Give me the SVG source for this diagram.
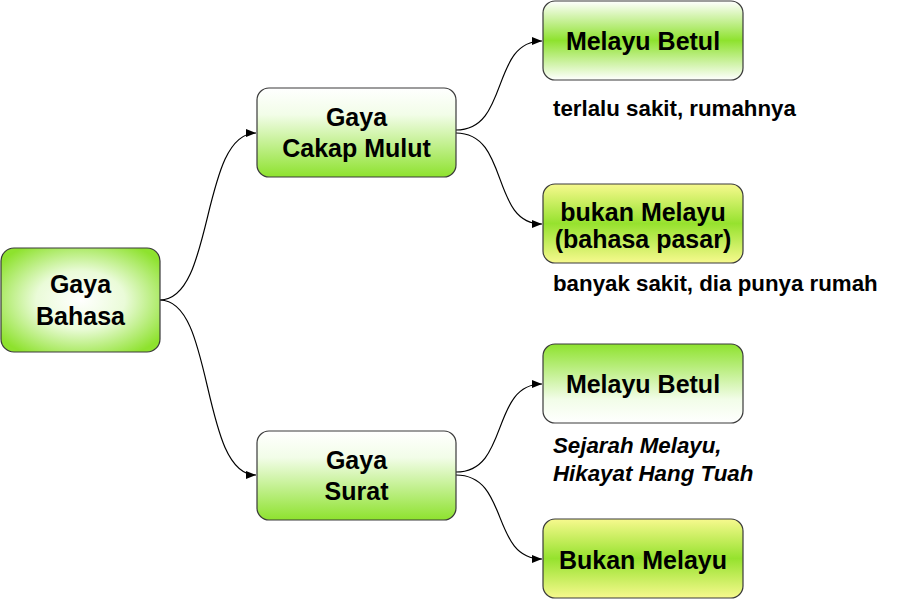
<svg xmlns="http://www.w3.org/2000/svg" width="897" height="602" viewBox="0 0 897 602">
<style>
.box{stroke:#3a3a3a;stroke-width:1.2}
.t{font-family:"Liberation Sans",Arial,sans-serif;font-weight:bold;font-size:25px;fill:#000;text-anchor:middle}
.a{font-family:"Liberation Sans",Arial,sans-serif;font-weight:bold;font-size:22.3px;fill:#000}
.i{font-style:italic}
.c{fill:none;stroke:#000;stroke-width:1.2}
</style>
<defs>
<radialGradient id="gRad" cx="0.5" cy="0.5" r="0.62">
<stop offset="0" stop-color="#ffffff"/><stop offset="0.45" stop-color="#eafbd8"/><stop offset="1" stop-color="#8ee22e"/>
</radialGradient>
<linearGradient id="gUp" x1="0" y1="0" x2="0" y2="1">
<stop offset="0" stop-color="#ffffff"/><stop offset="0.3" stop-color="#f2fde8"/><stop offset="1" stop-color="#8ee22e"/>
</linearGradient>
<linearGradient id="gDown" x1="0" y1="0" x2="0" y2="1">
<stop offset="0" stop-color="#8ee22e"/><stop offset="0.7" stop-color="#f2fde8"/><stop offset="1" stop-color="#ffffff"/>
</linearGradient>
<linearGradient id="gBand" x1="0" y1="0" x2="0" y2="1">
<stop offset="0" stop-color="#ffffff"/><stop offset="0.5" stop-color="#8ee22e"/><stop offset="1" stop-color="#ffffff"/>
</linearGradient>
<linearGradient id="gYel" x1="0" y1="0" x2="0" y2="1">
<stop offset="0" stop-color="#f7f98e"/><stop offset="0.5" stop-color="#96e22e"/><stop offset="1" stop-color="#f7f98e"/>
</linearGradient>
<marker id="arr" viewBox="0 0 10 10" refX="10" refY="5" markerWidth="10" markerHeight="10" markerUnits="userSpaceOnUse" orient="auto">
<path d="M0,1 L10,5 L0,9 z" fill="#000"/>
</marker>
</defs>
<g id="connectors">
<path class="c" marker-end="url(#arr)" d="M160,300 C215,300 200,133 256,133"/>
<path class="c" marker-end="url(#arr)" d="M160,300 C215,300 200,475 256,475"/>
<path class="c" marker-end="url(#arr)" d="M456,130 C510,130 490,41 542,41"/>
<path class="c" marker-end="url(#arr)" d="M456,133 C510,133 490,224 542,224"/>
<path class="c" marker-end="url(#arr)" d="M456,472 C510,472 490,384 542,384"/>
<path class="c" marker-end="url(#arr)" d="M456,475 C510,475 490,559 542,559"/>
</g>
<g id="gaya-bahasa">
<rect class="box" x="1" y="248" width="159" height="104" rx="13" fill="url(#gRad)"/>
<text class="t" x="80.5" y="293">Gaya</text>
<text class="t" x="80.5" y="325">Bahasa</text>
</g>
<g id="gaya-cakap-mulut">
<rect class="box" x="257" y="88" width="199" height="89" rx="12" fill="url(#gUp)"/>
<text class="t" x="356.5" y="126">Gaya</text>
<text class="t" x="356.5" y="157">Cakap Mulut</text>
</g>
<g id="gaya-surat">
<rect class="box" x="257" y="431" width="199" height="89" rx="12" fill="url(#gUp)"/>
<text class="t" x="356.5" y="469">Gaya</text>
<text class="t" x="356.5" y="500">Surat</text>
</g>
<g id="melayu-betul-1">
<rect class="box" x="543" y="1" width="200" height="79" rx="12" fill="url(#gBand)"/>
<text class="t" x="643" y="50">Melayu Betul</text>
</g>
<g id="bukan-melayu-1">
<rect class="box" x="543" y="184" width="200" height="79" rx="12" fill="url(#gYel)"/>
<text class="t" x="643" y="221">bukan Melayu</text>
<text class="t" x="643" y="248">(bahasa pasar)</text>
</g>
<g id="melayu-betul-2">
<rect class="box" x="543" y="344" width="200" height="79" rx="12" fill="url(#gDown)"/>
<text class="t" x="643" y="393">Melayu Betul</text>
</g>
<g id="bukan-melayu-2">
<rect class="box" x="543" y="519" width="200" height="79" rx="12" fill="url(#gYel)"/>
<text class="t" x="643" y="569">Bukan Melayu</text>
</g>
<g id="labels">
<text class="a" x="553" y="116">terlalu sakit, rumahnya</text>
<text class="a" x="553" y="291">banyak sakit, dia punya rumah</text>
<text class="a i" x="553" y="453">Sejarah Melayu,</text>
<text class="a i" x="553" y="481">Hikayat Hang Tuah</text>
</g>
</svg>
